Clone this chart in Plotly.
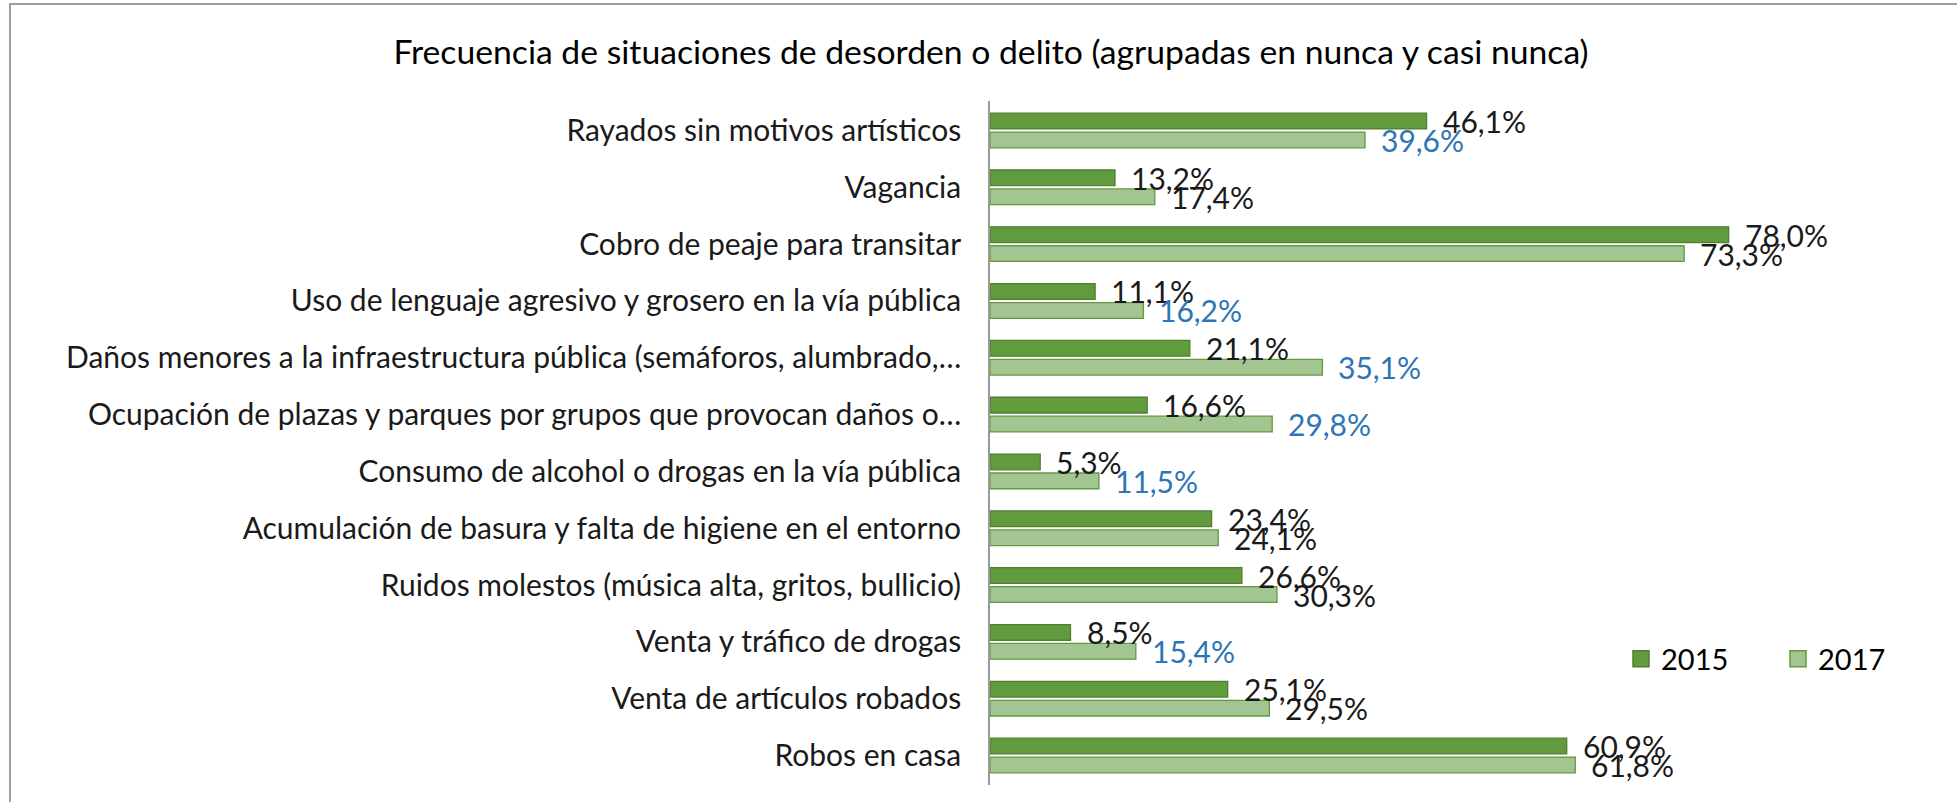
import plotly.graph_objects as go

categories = [
    "Rayados sin motivos artísticos",
    "Vagancia",
    "Cobro de peaje para transitar",
    "Uso de lenguaje agresivo y grosero en la vía pública",
    "Daños menores a la infraestructura pública (semáforos, alumbrado,…",
    "Ocupación de plazas y parques por grupos que provocan daños o…",
    "Consumo de alcohol o drogas en la vía pública",
    "Acumulación de basura y falta de higiene en el entorno",
    "Ruidos molestos (música alta, gritos, bullicio)",
    "Venta y tráfico de drogas",
    "Venta de artículos robados",
    "Robos en casa",
]
v2015 = [46.1, 13.2, 78.0, 11.1, 21.1, 16.6, 5.3, 23.4, 26.6, 8.5, 25.1, 60.9]
v2017 = [39.6, 17.4, 73.3, 16.2, 35.1, 29.8, 11.5, 24.1, 30.3, 15.4, 29.5, 61.8]
highlight2017 = [True, False, False, True, True, True, True, False, False, True, False, False]
series_names = ["2015", "2017"]

FONT = "Lato"
C2015 = "#629a3e"
C2015_LINE = "#507e32"
C2017 = "#a3c592"
C2017_LINE = "#629a3e"
BLUE = "#2e75b6"
TXT = "#1a1a1a"

W, H = 1957, 802
ML, MR, MT, MB = 990, 20, 101, 17

fig = go.Figure()
fig.add_trace(go.Bar(name=series_names[0], y=categories, x=v2015, orientation="h", showlegend=False,
                     marker=dict(color=C2015, line=dict(color=C2015_LINE, width=1.3))))
fig.add_trace(go.Bar(name=series_names[1], y=categories, x=v2017, orientation="h", showlegend=False,
                     marker=dict(color=C2017, line=dict(color=C2017_LINE, width=1.3))))
# legend entries (square swatches)
for nm, col, lc in [(series_names[0], C2015, C2015_LINE), (series_names[1], C2017, C2017_LINE)]:
    fig.add_trace(go.Scatter(name=nm, x=[None], y=[None], mode="markers", showlegend=True,
                             marker=dict(symbol="square", size=16, color=col,
                                         line=dict(color=lc, width=1.5))))

def fmt(v):
    return f"{v:.1f}".replace(".", ",") + "%"

LBL = 30
ann = []
for cat, v in zip(categories, v2015):
    ann.append(dict(x=v, y=cat, xref="x", yref="y", text=fmt(v), showarrow=False,
                    xanchor="left", yanchor="middle", xshift=14, yshift=9.5,
                    font=dict(family=FONT, size=LBL, color=TXT)))
for cat, v, hl in zip(categories, v2017, highlight2017):
    ann.append(dict(x=v, y=cat, xref="x", yref="y", text=fmt(v), showarrow=False,
                    xanchor="left", yanchor="middle", xshift=14, yshift=-9.5,
                    font=dict(family=FONT, size=LBL, color=BLUE if hl else TXT)))

pw = W - ML - MR
ph = H - MT - MB
def px_x(p):
    return (p - ML) / pw
def px_y(p):
    return (H - MB - p) / ph

fig.update_layout(
    width=W, height=H,
    margin=dict(l=ML, r=MR, t=MT, b=MB, autoexpand=False),
    paper_bgcolor="white", plot_bgcolor="white",
    barmode="group", bargap=0.333, bargroupgap=0.17,
    title=dict(text="Frecuencia de situaciones de desorden o delito (agrupadas en nunca y casi nunca)",
               x=991 / W, xanchor="center", y=1 - 52 / H, yanchor="middle",
               font=dict(family=FONT, size=33.7, color="#000000")),
    xaxis=dict(range=[0, 100], showgrid=False, zeroline=False, showticklabels=False,
               showline=False, ticks="", automargin=False),
    yaxis=dict(autorange="reversed", showgrid=False, zeroline=False, showline=True,
               linecolor="#9a9a9a", linewidth=1.7, ticks="", ticklabelstandoff=21,
               automargin=False,
               tickfont=dict(family=FONT, size=30, color=TXT)),
    legend=dict(orientation="h", x=px_x(1621), xanchor="left", y=px_y(659), yanchor="middle",
                font=dict(family=FONT, size=29, color="#000000"),
                entrywidth=112, bgcolor="rgba(0,0,0,0)", traceorder="normal"),
    annotations=ann,
    shapes=[dict(type="rect", xref="paper", yref="paper",
                 x0=px_x(10), x1=px_x(1965), y0=px_y(810), y1=px_y(4),
                 line=dict(color="#a0a0a0", width=2), fillcolor="rgba(0,0,0,0)", layer="below")],
    showlegend=True,
)

fig.write_html("out.html", config={"displayModeBar": False},
               post_script="document.body.style.margin='0';document.body.style.overflow='hidden';")
